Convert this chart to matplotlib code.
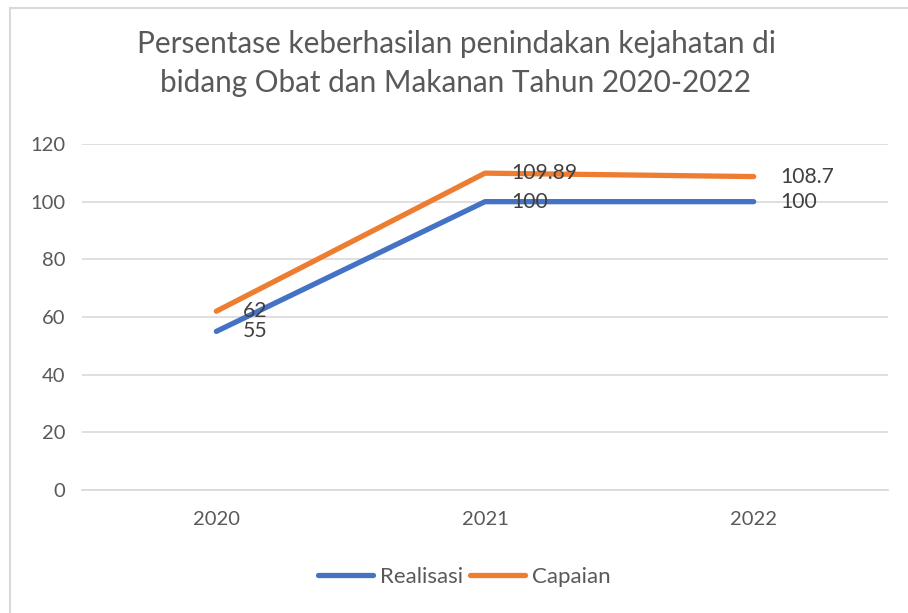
import matplotlib
matplotlib.use("Agg")
import matplotlib.pyplot as plt
from matplotlib.lines import Line2D

categories = ["2020", "2021", "2022"]
realisasi = [55, 100, 100]
capaian = [62, 109.89, 108.7]
realisasi_labels = ["55", "100", "100"]
capaian_labels = ["62", "109.89", "108.7"]
yticks = [0, 20, 40, 60, 80, 100, 120]

plt.rcParams['font.family'] = ['Lato', 'DejaVu Sans']

W, H = 908, 613
fig = plt.figure(figsize=(W / 100, H / 100), dpi=100)
ax = fig.add_axes([82 / W, 1 - 490 / H, (888 - 82) / W, (490 - 144) / H])

blue = "#4472C4"
orange = "#ED7D31"
x = list(range(len(categories)))
ax.plot(x, realisasi, color=blue, lw=3.8, solid_capstyle="round", solid_joinstyle="round", zorder=3)
ax.plot(x, capaian, color=orange, lw=3.8, solid_capstyle="round", solid_joinstyle="round", zorder=3)

for xi, v, lab in zip(x, realisasi, realisasi_labels):
    ax.annotate(lab, (xi, v), xytext=(19, 0), textcoords="offset points",
                ha="left", va="center", fontsize=15.2, color="#404040", zorder=4)
for xi, v, lab in zip(x, capaian, capaian_labels):
    ax.annotate(lab, (xi, v), xytext=(19, 0), textcoords="offset points",
                ha="left", va="center", fontsize=15.2, color="#404040", zorder=4)

ax.set_xlim(-0.5, 2.5)
ax.set_ylim(0, 120)
ax.set_yticks(yticks)
ax.set_xticks(x)
ax.set_xticklabels(categories)
ax.grid(axis="y", color="#D9D9D9", lw=1.2)
ax.set_axisbelow(True)
for s in ["top", "right", "left"]:
    ax.spines[s].set_visible(False)
ax.spines["bottom"].set_color("#D9D9D9")
ax.spines["bottom"].set_linewidth(1.2)
ax.tick_params(axis="both", length=0, labelsize=14.5, labelcolor="#595959")
ax.tick_params(axis="y", pad=12)
ax.tick_params(axis="x", pad=15)

fig.text(456 / W, 1 - 63.5 / H, "Persentase keberhasilan penindakan kejahatan di\nbidang Obat dan Makanan Tahun 2020-2022",
         ha="center", va="center", fontsize=21.4, color="#595959", linespacing=1.47)

handles = [Line2D([0], [0], color=blue, lw=3.8, solid_capstyle="round"),
           Line2D([0], [0], color=orange, lw=3.8, solid_capstyle="round")]
fig.legend(handles, ["Realisasi", "Capaian"], loc="center", bbox_to_anchor=(464 / W, 1 - 577 / H),
           ncol=2, frameon=False, fontsize=16, labelcolor="#595959", handlelength=2.5,
           handletextpad=0.3, columnspacing=0.3)

# chart border
fig.add_artist(Line2D([10 / W, 10 / W], [0, 1 - 8 / H], color="#D9D9D9", lw=1.5))
fig.add_artist(Line2D([10 / W, 1], [1 - 8 / H, 1 - 8 / H], color="#D9D9D9", lw=1.5))

fig.savefig("out.png", dpi=100, facecolor="white")
